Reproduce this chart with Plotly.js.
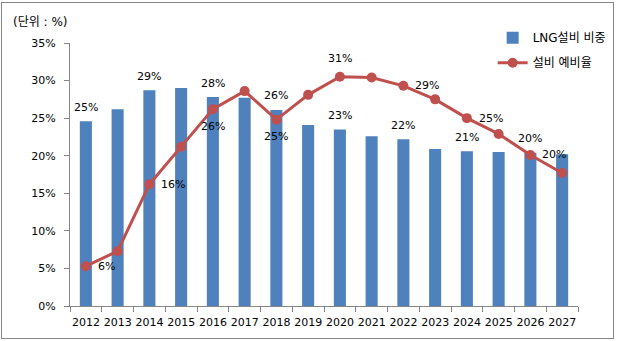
<!DOCTYPE html>
<html><head><meta charset="utf-8">
<script src="https://cdn.plot.ly/plotly-3.0.1.min.js"></script>
<style>body{margin:0;background:#fff}#wrap{position:relative;width:617px;height:341px}
#border{position:absolute;left:1px;top:2px;width:611px;height:335px;border:1px solid #868686;pointer-events:none}</style>
</head><body><div id="wrap"><div id="chart" style="width:617px;height:341px"></div><div id="border"></div></div>
<script>
const years = ['2012','2013','2014','2015','2016','2017','2018','2019','2020','2021','2022','2023','2024','2025','2026','2027'];
const lngShare = [24.6,26.2,28.7,29.0,27.8,27.7,26.1,24.1,23.5,22.6,22.2,20.9,20.6,20.5,20.4,20.2];
const reserveRate = [5.3,7.3,16.2,21.2,26.2,28.6,24.8,28.1,30.5,30.4,29.3,27.5,25.0,22.9,20.1,17.7];
const barLabels = ['25%','','29%','','28%','','26%','','23%','','22%','','21%','','20%',''];
const lineLabels = ['6%','','16%','','26%','','25%','','31%','','29%','','25%','','20%',''];
const linePos = ['right','','right','','below','','below','','above','','right','','right','','right',''];
const yTicks = [0,5,10,15,20,25,30,35];
const yTickText = yTicks.map(v => v + '%');

const FONT = 'DejaVu Sans, Noto Sans CJK KR, sans-serif';
const annotations = [];
years.forEach((yr, i) => {
  // category axis: annotation x uses the category index
  if (barLabels[i]) annotations.push({x: i, y: lngShare[i], text: barLabels[i], showarrow: false, yshift: 14, font: {family: FONT, size: 11, color: '#000'}});
  if (lineLabels[i]) {
    const a = {x: i, y: reserveRate[i], text: lineLabels[i], showarrow: false, font: {family: FONT, size: 11, color: '#000'}};
    if (linePos[i] === 'right') { a.xanchor = 'left'; a.xshift = 10; }
    else if (linePos[i] === 'below') { a.yshift = -17; }
    else { a.yshift = 18; }
    annotations.push(a);
  }
});
annotations.push({xref: 'paper', yref: 'paper', x: -0.116, y: 1.045, xanchor: 'left', yanchor: 'bottom', text: '(단위 : %)', showarrow: false, font: {family: FONT, size: 12, color: '#000'}});

const data = [
  {type: 'bar', name: 'LNG설비 비중', x: years, y: lngShare, marker: {color: '#4F81BD'}, width: 0.38, legendgroup: 'a', hoverinfo: 'skip'},
  {type: 'scatter', mode: 'lines+markers', name: '설비 예비율', x: years, y: reserveRate, line: {color: '#C0504D', width: 3}, marker: {color: '#C0504D', size: 10}, legendgroup: 'b', hoverinfo: 'skip'}
];
const layout = {
  width: 617, height: 341,
  margin: {l: 70, r: 39, t: 43, b: 35, autoexpand: false},
  paper_bgcolor: '#fff', plot_bgcolor: '#fff',
  font: {family: FONT, size: 11, color: '#000'},
  showlegend: true,
  legend: {x: 0.832, y: 1.075, xanchor: 'left', yanchor: 'top', font: {family: FONT, size: 12, color: '#000'}, tracegroupgap: 6, bgcolor: 'rgba(0,0,0,0)'},
  xaxis: {type: 'category', automargin: false, showline: true, linecolor: '#868686', linewidth: 1, ticks: 'outside', tickson: 'boundaries', ticklen: 5, tickcolor: '#868686', showgrid: false, zeroline: false, tickangle: 0, ticklabelstandoff: 6, tickfont: {family: FONT, size: 11, color: '#000'}, range: [-0.5, 15.5]},
  yaxis: {range: [0, 35], automargin: false, tickvals: yTicks, ticktext: yTickText, showline: true, linecolor: '#868686', linewidth: 1, ticks: 'outside', ticklen: 5, tickcolor: '#868686', showgrid: false, zeroline: false, ticklabelstandoff: 6, tickfont: {family: FONT, size: 11, color: '#000'}},
  annotations: annotations,
  bargap: 0.6
};
Plotly.newPlot('chart', data, layout, {displayModeBar: false, staticPlot: true});
</script></body></html>
